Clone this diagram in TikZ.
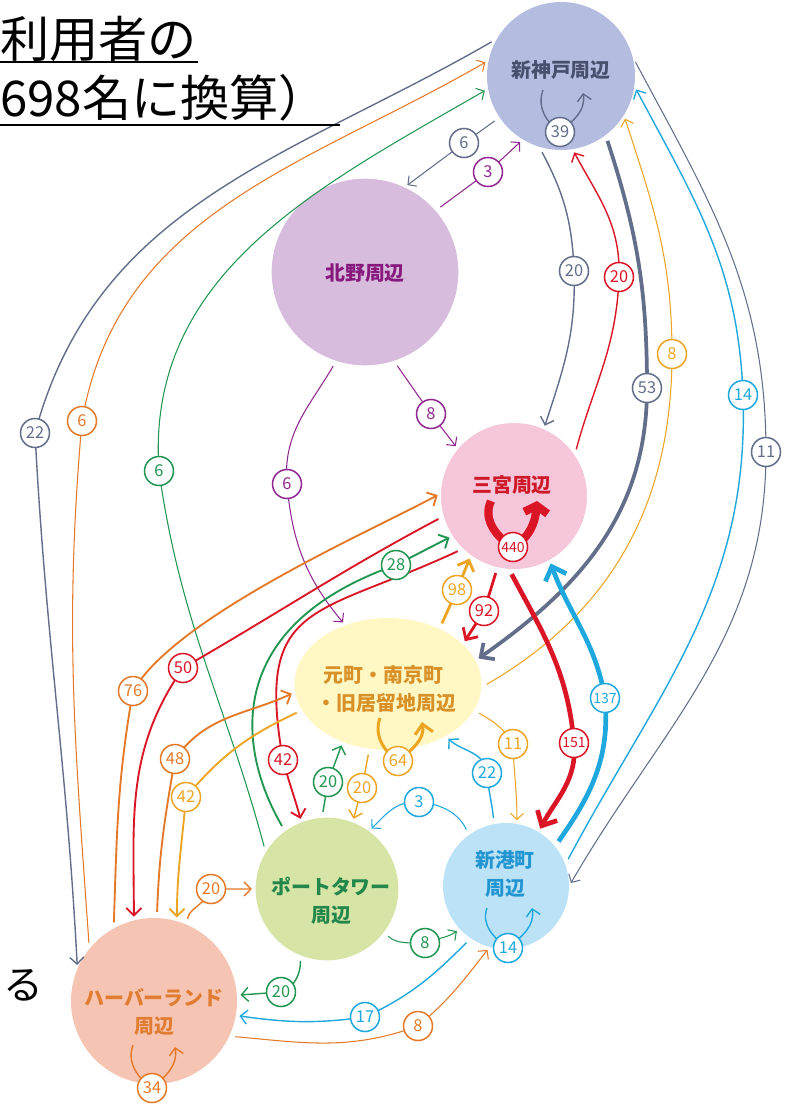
\documentclass[tikz,border=0pt]{standalone}
\usepackage{fontspec}
\setmainfont{Noto Sans CJK JP}
\usetikzlibrary{arrows.meta,shapes.geometric}

\definecolor{fSK}{RGB}{180,188,224}
\definecolor{fKT}{RGB}{216,188,221}
\definecolor{fSN}{RGB}{246,198,218}
\definecolor{fMM}{RGB}{255,248,196}
\definecolor{fPT}{RGB}{214,228,166}
\definecolor{fSH}{RGB}{188,226,247}
\definecolor{fHL}{RGB}{246,196,178}
\definecolor{cSK}{RGB}{98,110,138}
\definecolor{cKT}{RGB}{145,40,145}
\definecolor{cSN}{RGB}{218,22,38}
\definecolor{cMM}{RGB}{236,165,35}
\definecolor{cPT}{RGB}{32,150,80}
\definecolor{cSH}{RGB}{30,168,222}
\definecolor{cHL}{RGB}{228,122,40}
\definecolor{tSK}{RGB}{72,80,110}
\definecolor{tKT}{RGB}{135,25,125}
\definecolor{tSN}{RGB}{205,25,40}
\definecolor{tMM}{RGB}{215,145,40}
\definecolor{tPT}{RGB}{35,135,75}
\definecolor{tSH}{RGB}{35,150,210}
\definecolor{tHL}{RGB}{225,125,50}

\pgfdeclarelayer{bg}
\pgfdeclarelayer{mid}
\pgfsetlayers{bg,mid,main}

\tikzset{
	area/.style={circle,fill=#1,inner sep=0pt},
	areatext/.style={text=#1,align=center,font=\fontsize{17}{24}\selectfont\bfseries},
	num/.style={circle,draw=#1,fill=white,text=#1,line width=1.3pt,inner sep=0pt,minimum size=0.87cm,font=\fontsize{14}{14}\selectfont},
	num3/.style={num=#1,font=\fontsize{12}{12}\selectfont},
	e/.style={draw=#1,line width=1.2pt,-{Straight Barb[length=4pt 1.5,width=9pt 2.5]},shorten <=5pt,shorten >=3pt},
	sl/.style={draw=#1,line width=1.2pt,-{Straight Barb[length=4pt 1.5,width=9pt 2.5]}},
	head/.style={anchor=west,inner sep=0pt,font=\fontsize{42}{42}\selectfont}
}

\begin{document}
\begin{tikzpicture}[x=0.03cm,y=0.03cm]
	\useasboundingbox (0,0) rectangle (787,-1113);

	\begin{pgfonlayer}{bg}
		\node[area=fSK,minimum size=4.44cm] (sk) at (561,-76) {};
		\node[area=fKT,minimum size=5.6cm] (kt) at (365,-272) {};
		\node[area=fSN,minimum size=4.38cm] (sn) at (514,-496) {};
		\node[area=fMM,ellipse,minimum width=5.61cm,minimum height=3.96cm] (mm) at (388,-684) {};
		\node[area=fPT,minimum size=4.28cm] (pt) at (327,-889) {};
		\node[area=fSH,minimum size=3.78cm] (sh) at (506,-886) {};
		\node[area=fHL,minimum size=4.98cm] (hl) at (154,-1001) {};
	\end{pgfonlayer}

	\node[areatext=tSK] (skt) at (561,-70) {新神戸周辺};
	\node[areatext=tKT] (ktt) at (365,-273) {北野周辺};
	\node[areatext=tSN] (snt) at (512,-485) {三宮周辺};
	\node[areatext=tMM,align=left] (mmt) at (390,-689) {元町・南京町\\\kern-0.35em・旧居留地周辺};
	\node[areatext=tPT] (ptt) at (331,-901) {ポートタワー\\周辺};
	\node[areatext=tSH] (sht) at (505,-874) {新港町\\周辺};
	\node[areatext=tHL] (hlt) at (154,-1012) {ハーバーランド\\周辺};

	\node[head] (h1) at (0,-39) {利用者の};
	\node[head] (h2) at (0,-98) {698名に換算）};
	\draw[line width=1.6pt] (0,-62) -- (198,-62);
	\draw[line width=1.6pt] (0,-125) -- (340,-125);
	\node[inner sep=0pt,font=\fontsize{34}{34}\selectfont] (h3) at (23,-985) {る};

	\node[num=cSK] (n1) at (464,-143) {6};
	\node[num=cKT] (n2) at (488,-172) {3};
	\node[num=cSK] (n3) at (574,-271) {20};
	\node[num=cSN] (n4) at (619,-277) {20};
	\node[num=cMM] (n5) at (672,-354) {8};
	\node[num=cSK] (n6) at (647,-388) {53};
	\node[num=cSH] (n7) at (743,-395) {14};
	\node[num=cSK] (n8) at (766,-452) {11};
	\node[num=cSK] (n9) at (35,-433) {22};
	\node[num=cHL] (n10) at (82,-421) {6};
	\node[num=cPT] (n11) at (159,-471) {6};
	\node[num=cKT] (n12) at (287,-484) {6};
	\node[num=cKT] (n13) at (431,-414) {8};
	\node[num=cPT] (n14) at (396,-565) {28};
	\node[num=cMM] (n15) at (457,-590) {98};
	\node[num=cSN] (n16) at (484,-611) {92};
	\node[num=cSN] (n17) at (183,-668) {50};
	\node[num=cHL] (n18) at (133,-691) {76};
	\node[num3=cSH] (n19) at (605,-698) {137};
	\node[num3=cSN] (n20) at (574,-743) {151};
	\node[num=cSN] (n21) at (283,-760) {42};
	\node[num=cHL] (n22) at (175,-759) {48};
	\node[num=cMM] (n23) at (186,-797) {42};
	\node[num=cPT] (n24) at (328,-782) {20};
	\node[num=cMM] (n25) at (362,-788) {20};
	\node[num=cMM] (n26) at (513,-744) {11};
	\node[num=cSH] (n27) at (487,-773) {22};
	\node[num=cSH] (n28) at (419,-802) {3};
	\node[num=cHL] (n29) at (211,-889) {20};
	\node[num=cPT] (n30) at (425,-943) {8};
	\node[num=cPT] (n31) at (281,-992) {20};
	\node[num=cSH] (n32) at (365,-1017) {17};
	\node[num=cHL] (n33) at (418,-1026) {8};
	\node[num=cSK] (s1) at (560,-132) {39};
	\node[num3=cSN] (s2) at (513,-547) {440};
	\node[num=cMM] (s3) at (398,-761) {64};
	\node[num=cSH] (s4) at (508,-948) {14};
	\node[num=cHL] (s5) at (152,-1088) {34};

	\begin{pgfonlayer}{mid}
		\draw[e=cSK,line width=0.9pt] (sk.214) -- (n1.center) -- (kt.65);
		\draw[e=cKT,line width=0.9pt] (kt.41) -- (n2.center) -- (sk.239);
		\draw[e=cSK] (sk.253) to[out=-62,in=92] (n3.center) to[out=-88,in=72] (sn.66);
		\draw[e=cSN] (sn.34) to[out=75,in=-92] (n4.center) to[out=88,in=-62] (sk.279);
		\draw[e=cMM,line width=0.9pt] (mm.-2) to[out=30,in=-90] (n5.center) to[out=90,in=-72] (sk.-32);
		\draw[e=cSK,line width=3.2pt] (sk.-53) to[out=-72,in=90] (n6.center) to[out=-90,in=35] (mm.15);
		\draw[e=cSH] (sh.20) to[out=62,in=-88] (n7.center) to[out=92,in=-62] (sk.-8);
		\draw[e=cSK,line width=0.9pt] (sk.15) to[out=-62,in=90] (n8.center) to[out=-90,in=60] (sh.0);
		\draw[e=cSK] (sk.150) to[out=210,in=75] (n9.center) to[out=-87,in=93] (hl.157);
		\draw[e=cHL,line width=0.9pt] (hl.141) to[out=94,in=-95] (n10.center) to[out=80,in=210] (sk.168);
		\draw[e=cPT,line width=0.9pt] (pt.149) to[out=105,in=-82] (n11.center) to[out=94,in=210] (sk.190);
		\draw[e=cKT,line width=0.9pt] (kt.252) to[out=240,in=95] (n12.center) to[out=-85,in=130] (mm.126);
		\draw[e=cKT,line width=0.9pt] (kt.-72) -- (n13.center) -- (sn.140);
		\draw[e=cPT,line width=1.6pt] (pt.126) .. controls (235,-745) and (225,-625) .. (n14.center) -- (sn.213);
		\draw[e=cMM,line width=2.4pt] (mm.47) -- (n15.center) -- (sn.234);
		\draw[e=cSN,line width=2.4pt] (sn.257) -- (n16.center) -- (mm.28);
		\draw[e=cSN,line width=1.6pt] (sn.196) to[out=208,in=30] (n17.center) to[out=235,in=90] (hl.104);
		\draw[e=cHL,line width=1.6pt] (hl.119) to[out=88,in=-100] (n18.center) to[out=60,in=208,looseness=0.6] (sn.178);
		\draw[e=cSH,line width=4pt] (sh.39) to[out=55,in=-85] (n19.center) to[out=100,in=-70] (sn.-61);
		\draw[e=cSN,line width=4pt] (sn.266) to[out=-62,in=95] (n20.center) to[out=-85,in=62] (sh.59);
		\draw[e=cSN,line width=1.6pt] (sn.226) to[out=205,in=100,looseness=1.5] (n21.center) to[out=-75,in=105] (pt.111);
		\draw[e=cHL,line width=1.6pt] (hl.88) to[out=88,in=-100] (n22.center) to[out=55,in=205] (mm.185);
		\draw[e=cMM,line width=1.6pt] (mm.197) to[out=205,in=50] (n23.center) to[out=-95,in=90] (hl.74);
		\draw[e=cPT] (pt.94) -- (n24.center) -- (mm.232);
		\draw[e=cMM] (mm.254) -- (n25.center) -- (pt.69);
		\draw[e=cMM,line width=0.9pt] (mm.-17) to[out=-30,in=120] (n26.center) to[out=-88,in=90] (sh.80);
		\draw[e=cSH] (sh.101) to[out=95,in=-85] (n27.center) to[out=95,in=-45] (mm.-42);
		\draw[e=cSH,line width=0.9pt] (sh.126) to[out=115,in=-5] (n28.center) to[out=175,in=45] (pt.54);
		\draw[e=cHL] (hl.67) to[out=80,in=-110] (n29.center) -- (pt.180);
		\draw[e=cPT,line width=0.9pt] (pt.-37) to[out=-45,in=180] (n30.center) to[out=20,in=215] (sh.223);
		\draw[e=cPT] (pt.248) to[out=-88,in=20] (n31.center) -- (hl.4);
		\draw[e=cSH] (sh.236) to[out=225,in=25] (n32.center) to[out=188,in=-8] (hl.-10);
		\draw[e=cHL,line width=0.9pt] (hl.-25) to[out=-5,in=200] (n33.center) to[out=40,in=232] (sh.255);

		\draw[sl=cSK] ([shift={(-17,42)}]s1.center) to[out=250,in=145] (s1.center) to[out=40,in=-80] ([shift={(23,39)}]s1.center);
		\draw[sl=cSN,line width=7pt,-{Straight Barb[length=6pt,width=20pt]}] ([shift={(-22,46)}]s2.center) to[out=245,in=150] (s2.center) to[out=30,in=-95] ([shift={(24,46)}]s2.center);
		\draw[sl=cMM,line width=2.6pt] ([shift={(-18,43)}]s3.center) to[out=250,in=145] (s3.center) to[out=40,in=-80] ([shift={(24,39)}]s3.center);
		\draw[sl=cSH] ([shift={(-21,40)}]s4.center) to[out=250,in=145] (s4.center) to[out=40,in=-80] ([shift={(24,40)}]s4.center);
		\draw[sl=cHL] ([shift={(-19,43)}]s5.center) to[out=250,in=145] (s5.center) to[out=40,in=-80] ([shift={(23,41)}]s5.center);
	\end{pgfonlayer}
\end{tikzpicture}
\end{document}
